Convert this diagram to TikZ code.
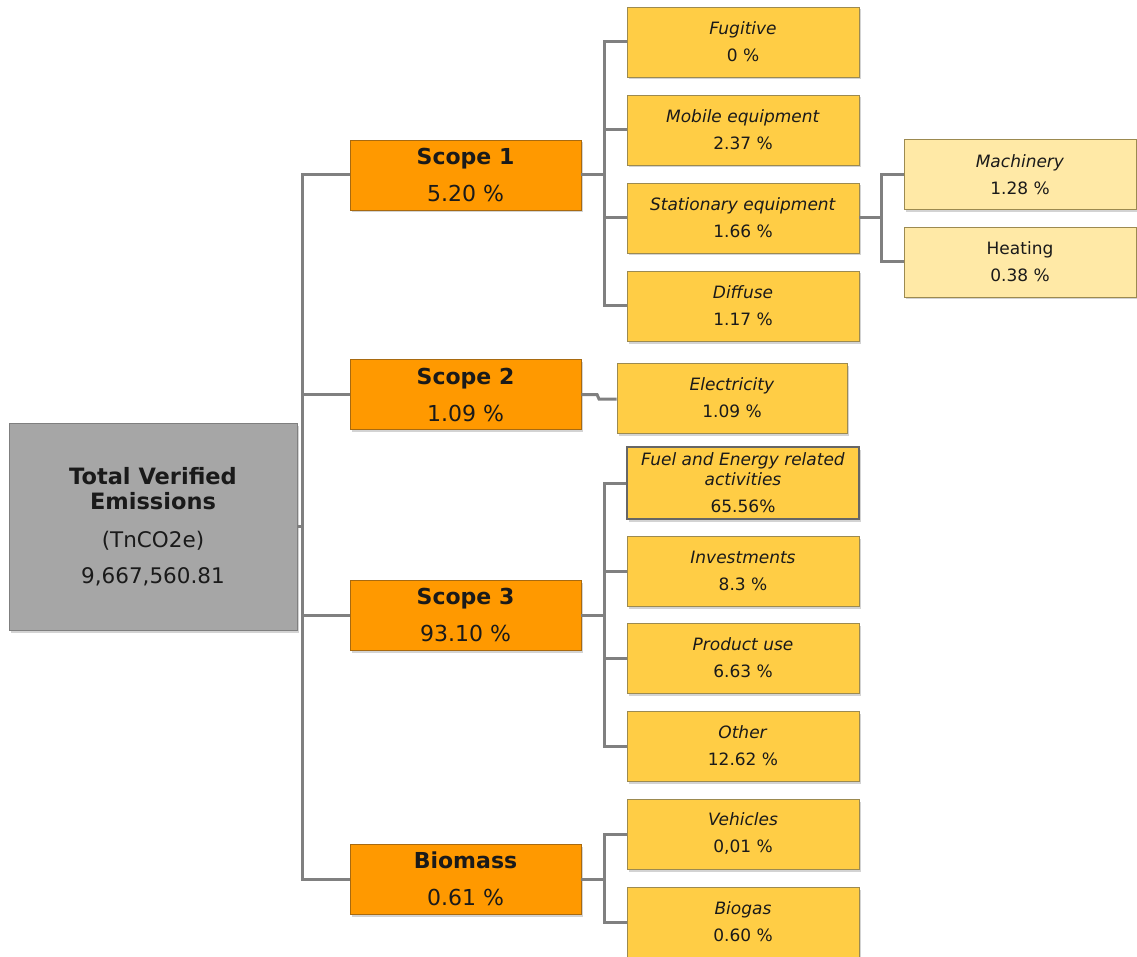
\documentclass[tikz,border=0pt]{standalone}
\usepackage{fontspec}
\setmainfont{DejaVu Sans}
\usetikzlibrary{shadows}
\definecolor{rootfill}{HTML}{A6A6A6}
\definecolor{rootdraw}{HTML}{7F7F7F}
\definecolor{scopefill}{HTML}{FF9900}
\definecolor{scopedraw}{HTML}{A86A10}
\definecolor{leaffill}{HTML}{FFCD45}
\definecolor{leafdraw}{HTML}{9C8A50}
\definecolor{subfill}{HTML}{FFE9A6}
\definecolor{conncol}{HTML}{808080}
\definecolor{txt}{HTML}{1A1A1A}
\tikzset{
  boxbase/.style={rectangle, inner sep=0pt, align=center, line width=0.9pt, text=txt,
    drop shadow={shadow xshift=2pt, shadow yshift=-2.5pt, opacity=0.35}},
  rootbox/.style={boxbase, fill=rootfill, draw=rootdraw, minimum width=288pt, minimum height=207pt},
  scopebox/.style={boxbase, fill=scopefill, draw=scopedraw, minimum width=231pt, minimum height=70pt,
    font=\fontsize{22}{37}\selectfont},
  leafbox/.style={boxbase, fill=leaffill, draw=leafdraw, minimum width=232pt, minimum height=70pt,
    font=\fontsize{17}{27}\selectfont},
  subbox/.style={leafbox, fill=subfill},
  conn/.style={draw=conncol, line width=3pt, line join=miter}
}
\begin{document}
\begin{tikzpicture}[x=1pt,y=-1pt]
\useasboundingbox (0,0) rectangle (1137,957);
% root
\node[rootbox, font=\fontsize{21.5}{26}\selectfont] (root) at (153,526.5) {\textbf{\fontsize{22.5}{26}\selectfont Total Verified}\\[-1pt]
  \textbf{\fontsize{22.5}{26}\selectfont Emissions}\\[12pt]
  (TnCO2e)\\[10pt]
  9,667,560.81};
% scopes
\node[scopebox] (s1) at (465.5,175) {\textbf{Scope 1}\\5.20 \%};
\node[scopebox] (s2) at (465.5,394.5) {\textbf{Scope 2}\\1.09 \%};
\node[scopebox] (s3) at (465.5,615) {\textbf{Scope 3}\\93.10 \%};
\node[scopebox] (bio) at (465.5,879) {\textbf{Biomass}\\0.61 \%};
% scope 1 leaves
\node[leafbox] (fug) at (743,42) {\textit{Fugitive}\\0 \%};
\node[leafbox] (mob) at (743,130) {\textit{Mobile equipment}\\2.37 \%};
\node[leafbox] (sta) at (743,218) {\textit{Stationary equipment}\\1.66 \%};
\node[leafbox] (dif) at (743,306) {\textit{Diffuse}\\1.17 \%};
% stationary sub
\node[subbox] (mac) at (1020,174.5) {\textit{Machinery}\\1.28 \%};
\node[subbox] (hea) at (1020,262) {Heating\\0.38 \%};
% scope 2 leaf
\node[leafbox, minimum width=230pt] (ele) at (732,398) {\textit{Electricity}\\1.09 \%};
% scope 3 leaves
\node[leafbox, draw=black!60, line width=1.2pt, minimum height=72pt] (fue) at (743,483)
  {\textit{Fuel and Energy related}\\[-7pt]\textit{activities}\\65.56\%};
\node[leafbox] (inv) at (743,571) {\textit{Investments}\\8.3 \%};
\node[leafbox] (pro) at (743,658) {\textit{Product use}\\6.63 \%};
\node[leafbox] (oth) at (743,746) {\textit{Other}\\12.62 \%};
% biomass leaves
\node[leafbox] (veh) at (743,834) {\textit{Vehicles}\\0,01 \%};
\node[leafbox] (bgs) at (743,922) {\textit{Biogas}\\0.60 \%};
% connectors: root trunk
\coordinate (tr) at (302,526.5);
\draw[conn] (root.east) -- (tr);
\draw[conn] (s1.west) -| (tr) |- (bio.west);
\draw[conn] (s2.west) -- (s2.west -| tr);
\draw[conn] (s3.west) -- (s3.west -| tr);
% scope 1
\coordinate (b1) at (604,175);
\draw[conn] (s1.east) -- (b1);
\draw[conn] (fug.west) -| (b1) |- (dif.west);
\draw[conn] (mob.west) -- (mob.west -| b1);
\draw[conn] (sta.west) -- (sta.west -| b1);
% stationary
\coordinate (b2) at (881,218);
\draw[conn] (sta.east) -- (b2);
\draw[conn] (mac.west) -| (b2) |- (hea.west);
% scope 2
\coordinate (j1) at (597,394.5);
\coordinate (j2) at (599,399);
\draw[conn] (s2.east) -- (j1) -- (j2) -- (ele.west |- j2);
% scope 3
\coordinate (b3) at (604,615);
\draw[conn] (s3.east) -- (b3);
\draw[conn] (fue.west) -| (b3) |- (oth.west);
\draw[conn] (inv.west) -- (inv.west -| b3);
\draw[conn] (pro.west) -- (pro.west -| b3);
% biomass
\coordinate (b4) at (604,879);
\draw[conn] (bio.east) -- (b4);
\draw[conn] (veh.west) -| (b4) |- (bgs.west);
\end{tikzpicture}
\end{document}
